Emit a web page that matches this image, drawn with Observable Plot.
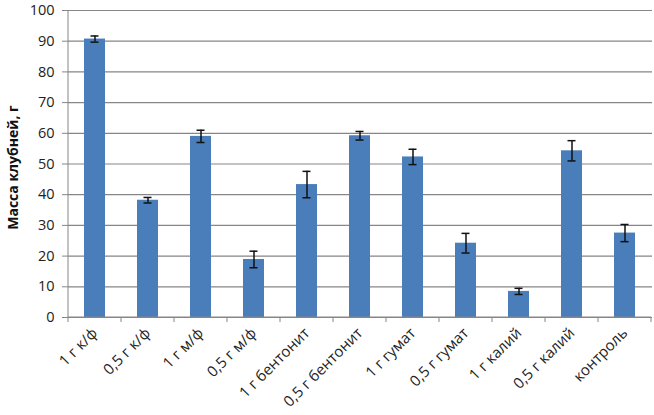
<!DOCTYPE html>
<html>
<head>
<meta charset="utf-8">
<script src="https://cdn.jsdelivr.net/npm/d3@7"></script>
<script src="https://cdn.jsdelivr.net/npm/@observablehq/plot@0.6"></script>
<style>
  body { margin: 0; background: #fff; }
  #chart svg { display: block; }
</style>
</head>
<body>
<div id="chart"></div>
<script>
const categories = ["1 г к/ф", "0,5 г к/ф", "1 г м/ф", "0,5 г м/ф", "1 г бентонит", "0,5 г бентонит", "1 г гумат", "0,5 г гумат", "1 г калий", "0,5 г калий", "контроль"];
const values = [90.7, 38.2, 59.0, 18.9, 43.3, 59.2, 52.3, 24.2, 8.5, 54.3, 27.5];
const errors = [1.0, 0.9, 2.0, 2.7, 4.3, 1.4, 2.5, 3.2, 1.0, 3.3, 2.8];
const yTicks = [0, 10, 20, 30, 40, 50, 60, 70, 80, 90, 100];
const yTitle = "Масса клубней, г";

const data = categories.map((c, i) => ({ cat: c, value: values[i], err: errors[i] }));

const font = "'Open Sans', sans-serif";
const axisColor = "#868686";

// boundary tick marks below the x axis, between category bands, plus axis lines and y title
function frameLines(index, scales, values, dimensions) {
  const x = scales.x;
  const step = x.step();
  const y0 = scales.y(0);
  const yTop = scales.y(100);
  const g = d3.create("svg:g");
  const positions = x.domain().map(d => x(d) - (step - x.bandwidth()) / 2);
  positions.push(positions[positions.length - 1] + step);
  for (const p of positions) {
    g.append("line")
      .attr("x1", p).attr("x2", p)
      .attr("y1", y0).attr("y2", y0 + 5)
      .attr("stroke", axisColor);
  }
  g.append("line")
    .attr("x1", positions[0]).attr("x2", positions[positions.length - 1])
    .attr("y1", y0).attr("y2", y0)
    .attr("stroke", axisColor);
  g.append("line")
    .attr("x1", positions[0]).attr("x2", positions[0])
    .attr("y1", yTop).attr("y2", y0)
    .attr("stroke", axisColor);
  const cy = (yTop + y0) / 2 + 4;
  g.append("text")
    .attr("transform", `translate(14,${cy}) rotate(-90)`)
    .attr("text-anchor", "middle")
    .attr("dominant-baseline", "middle")
    .attr("font-size", 14)
    .attr("font-weight", "bold")
    .attr("fill", "#111")
    .text(yTitle);
  return g.node();
}

const chart = Plot.plot({
  width: 654,
  height: 415,
  marginLeft: 68,
  marginRight: 2,
  marginTop: 10,
  marginBottom: 98,
  style: { fontFamily: font, background: "#fff" },
  x: { domain: categories, paddingInner: 0.6, paddingOuter: 0.3, label: null },
  y: { domain: [0, 100], label: null },
  marks: [
    Plot.gridY(yTicks, { stroke: axisColor, strokeOpacity: 1, strokeWidth: 1.2 }),
    Plot.barY(data, { x: "cat", y: "value", fill: "#4a7ebb" }),
    Plot.ruleX(data, { x: "cat", y1: d => d.value - d.err, y2: d => d.value + d.err, stroke: "#111", strokeWidth: 1.5 }),
    Plot.tickY(data, { x: "cat", y: d => d.value + d.err, stroke: "#111", strokeWidth: 1.5, insetLeft: 6.5, insetRight: 6.5 }),
    Plot.tickY(data, { x: "cat", y: d => d.value - d.err, stroke: "#111", strokeWidth: 1.5, insetLeft: 6.5, insetRight: 6.5 }),
    Plot.axisY({ ticks: yTicks, tickSize: 6, tickPadding: 8, fontSize: 14.5, stroke: axisColor, color: "#222" }),
    frameLines,
    Plot.axisX({ tickSize: 0, tickRotate: -45, tickPadding: 13, fontSize: 15, color: "#222" })
  ]
});

document.getElementById("chart").appendChild(chart);
</script>
</body>
</html>
